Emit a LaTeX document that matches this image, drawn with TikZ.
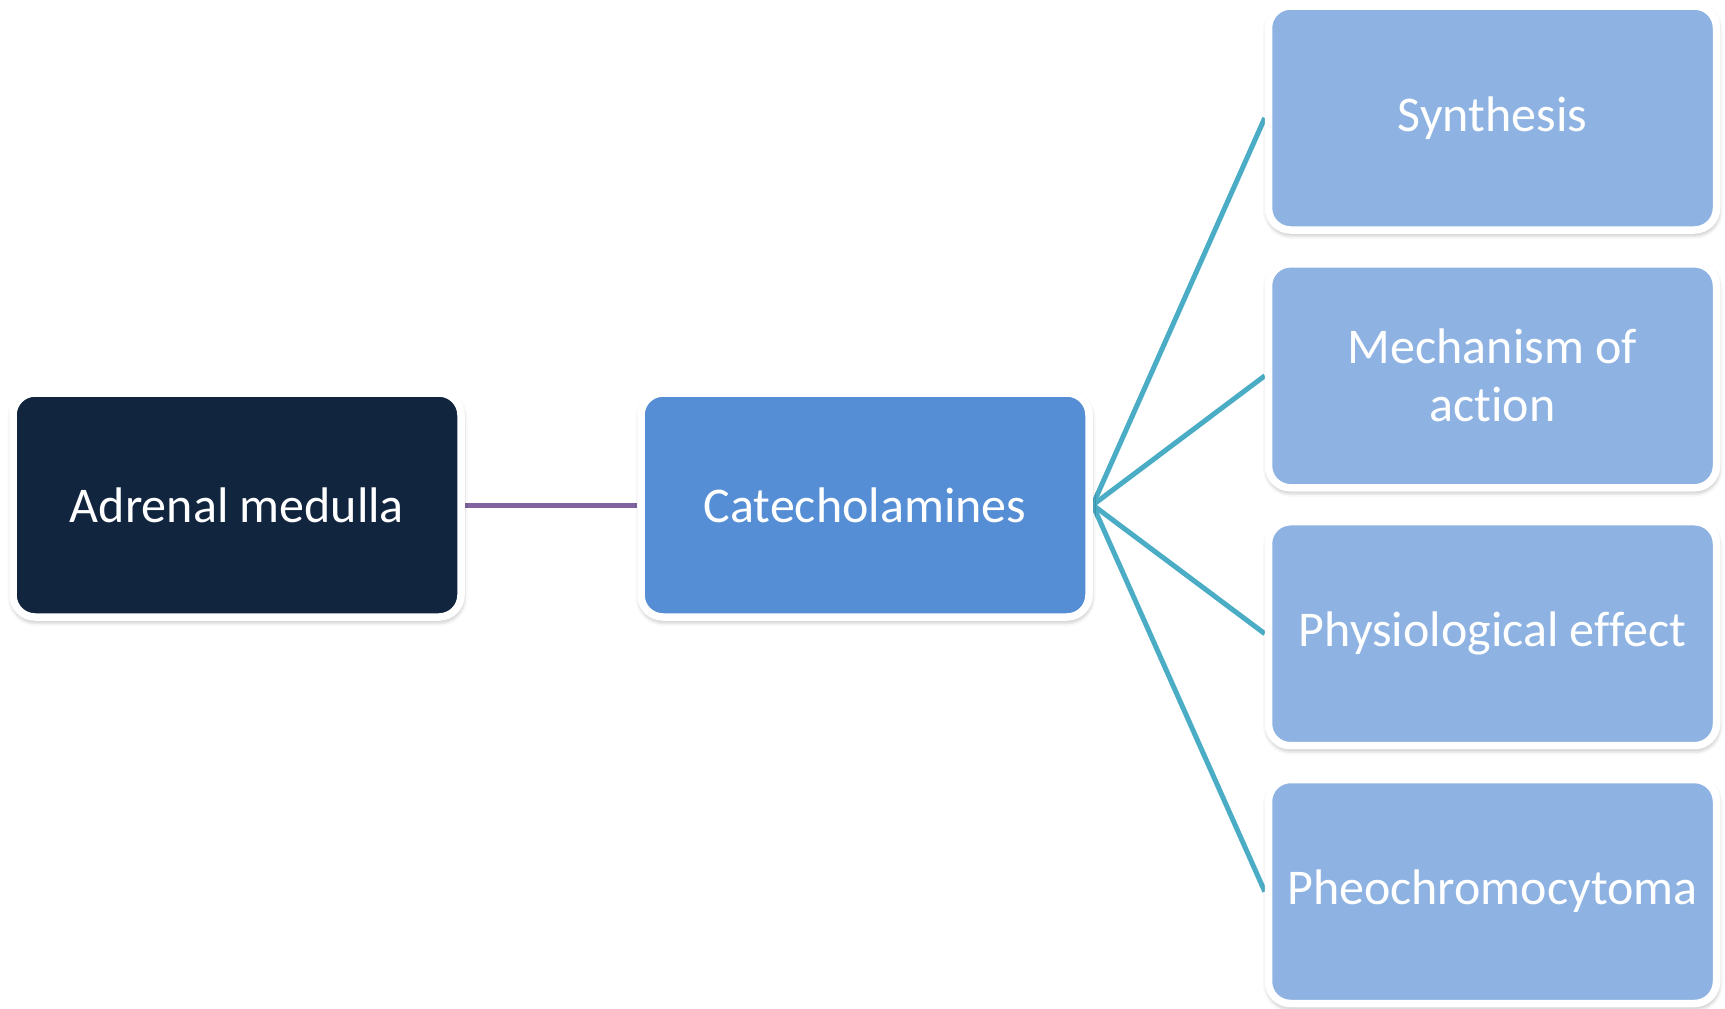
\documentclass[tikz,border=0pt]{standalone}
\usepackage{fontspec}
\setmainfont{Carlito}[Ligatures=NoCommon]
\usetikzlibrary{shadows.blur,backgrounds}
\definecolor{navy}{HTML}{12253F}
\definecolor{midblue}{HTML}{558ED5}
\definecolor{lightblue}{HTML}{8EB3E2}
\definecolor{tealline}{HTML}{4BACC6}
\definecolor{purpleline}{HTML}{8064A2}
\tikzset{
  box/.style={draw=white, line width=7.5pt, rounded corners=22pt,
    minimum width=448pt, minimum height=224pt, inner sep=0pt,
    text=white, align=center,
    font=\fontsize{50pt}{58pt}\selectfont,
    blur shadow={shadow xshift=0.5pt, shadow yshift=-3pt, shadow blur radius=6pt, shadow opacity=45}},
  tealconn/.style={tealline, line width=5pt},
  purpleconn/.style={purpleline, line width=5pt}
}
\begin{document}
\begin{tikzpicture}[x=1pt,y=-1pt]
\useasboundingbox (0,0) rectangle (1725,1009);
\node[box, fill=navy] (adrenal) at (237,505) {Adrenal medulla};
\node[box, fill=midblue] (cat) at (865,505) {Catecholamines};
\node[box, fill=lightblue] (syn) at (1492.5,118) {Synthesis};
\node[box, fill=lightblue] (mech) at (1492.5,375.8) {Mechanism of\\action};
\node[box, fill=lightblue] (phys) at (1492.5,633.7) {Physiological effect};
\node[box, fill=lightblue] (pheo) at (1492.5,891.5) {Pheochromocytoma};
\begin{scope}[on background layer]
\draw[purpleconn] (adrenal.east) -- (cat.west);
\draw[tealconn] (cat.east) -- (syn.west);
\draw[tealconn] (cat.east) -- (mech.west);
\draw[tealconn] (cat.east) -- (phys.west);
\draw[tealconn] (cat.east) -- (pheo.west);
\end{scope}
\end{tikzpicture}
\end{document}
